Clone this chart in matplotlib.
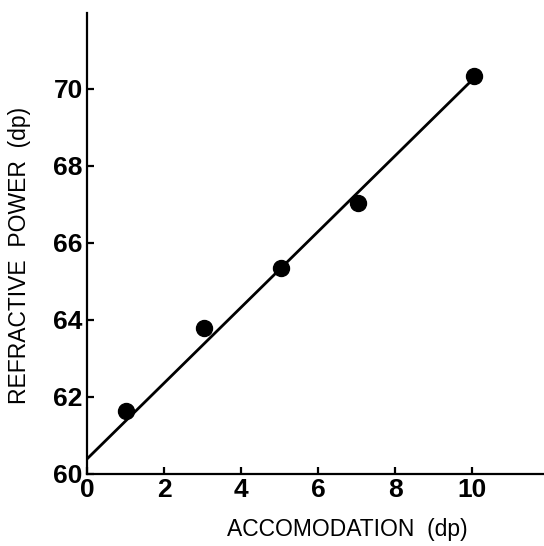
import matplotlib
matplotlib.use('Agg')
import matplotlib.pyplot as plt

# measured points (accommodation dp, refractive power dp)
accom = [1.0, 3.05, 5.05, 7.05, 10.05]
power = [61.64, 63.79, 65.35, 67.04, 70.34]

# fitted line end points
line_x = [0.0, 9.95]
line_y = [60.39, 70.18]

x_ticks = [0, 2, 4, 6, 8, 10]
x_ticklabels = ['0', '2', '4', '6', '8', '10']
y_ticks = [60, 62, 64, 66, 68, 70]
y_ticklabels = ['60', '62', '64', '66', '68', '70']

plt.rcParams['font.family'] = ['Liberation Sans', 'DejaVu Sans']

fig = plt.figure(figsize=(5.44, 5.46), dpi=100)
ax = fig.add_axes([0.16, 0.132, 0.84, 0.844])

ax.plot(line_x, line_y, color='black', lw=2.0, solid_capstyle='butt', zorder=2)
ax.plot(accom, power, 'o', color='black', markersize=11.5, zorder=3)

ax.set_xlim(0, 11.87)
ax.set_ylim(60, 71.97)

ax.spines['top'].set_visible(False)
ax.spines['right'].set_visible(False)
for s in ['left', 'bottom']:
    ax.spines[s].set_linewidth(1.6)

ax.set_xticks(x_ticks)
ax.set_xticklabels(x_ticklabels, fontweight='bold')
ax.set_yticks(y_ticks)
ax.set_yticklabels(y_ticklabels, fontweight='bold')
ax.tick_params(direction='in', length=5, width=1.6, labelsize=19, pad=3)

ax.set_xlabel('ACCOMODATION  (dp)', fontsize=16.5)
ax.xaxis.set_label_coords(0.569, -0.121)
ax.xaxis.label.set_va('center')
ax.set_ylabel('REFRACTIVE  POWER  (dp)', fontsize=16.5)
ax.yaxis.set_label_coords(-0.147, 0.475)
ax.yaxis.label.set_va('center')

fig.savefig('out.png', dpi=100)
